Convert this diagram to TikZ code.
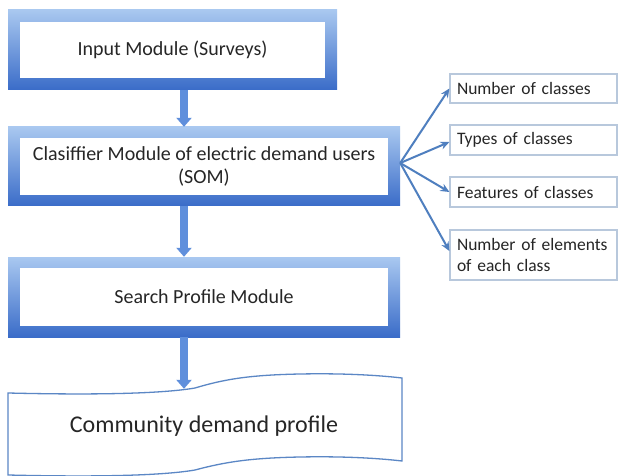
\documentclass[tikz,border=0pt]{standalone}
\usepackage{fontspec}
\setmainfont{Carlito}
\usetikzlibrary{arrows.meta,calc}
\definecolor{frametop}{HTML}{A9C8F0}
\definecolor{framebot}{HTML}{3A6CC8}
\definecolor{fatblue}{HTML}{5F8FDC}
\definecolor{thinblue}{HTML}{4F7FBF}
\definecolor{sidebox}{HTML}{B8C8DC}
\definecolor{docline}{HTML}{5B87C5}
\definecolor{txt}{HTML}{262626}
\newcommand\mytightspace{\spaceskip=0.15em plus 0.05em minus 0.02em\relax}
\begin{document}
\begin{tikzpicture}[x=1pt,y=-1pt,
  modframe/.style={inner sep=0pt, top color=frametop, bottom color=framebot, draw=none},
  modinner/.style={inner sep=0pt, fill=white, draw=none, text=txt, font=\fontsize{20}{23}\selectfont, align=center},
  fatarrow/.style={line width=8pt, draw=fatblue, -{Triangle[width=15pt,length=9pt]}},
  sideitem/.style={draw=sidebox, line width=1.2pt, fill=white, minimum width=167pt, text width=153pt, inner sep=0pt, align=left, text=txt, font=\fontsize{17.5}{21}\selectfont\mytightspace},
  thinarrow/.style={draw=thinblue, line width=2pt, -{Stealth[length=9pt,width=8pt]}},
  docshape/.style={draw=docline, line width=1.3pt, fill=white}]
\useasboundingbox (0,0) rectangle (619,476);
\fill[white] (0,0) rectangle (619,476);
% module 1
\node[modframe, minimum width=329pt, minimum height=80pt] (b1o) at (172.5,50) {};
\node[modinner, minimum width=305pt, minimum height=56pt] (b1) at (b1o) {Input Module (Surveys)};
% module 2
\node[modframe, minimum width=392pt, minimum height=79pt] (b2o) at (204,166.5) {};
\node[modinner, minimum width=368pt, minimum height=57pt] (b2) at (b2o) {Clasiffier Module of electric demand users\\(SOM)};
% module 3
\node[modframe, minimum width=392pt, minimum height=80pt] (b3o) at (204,297) {};
\node[modinner, minimum width=368pt, minimum height=58pt] (b3) at (b3o) {Search Profile Module};
% document shape
\draw[docshape] (8,393) .. controls (90,395) and (160,394) .. (195,388)
  .. controls (225,379) and (250,375) .. (300,374)
  .. controls (350,373) and (385,376) .. (402,378)
  -- (402,461)
  .. controls (385,459) and (350,456) .. (300,457)
  .. controls (250,458) and (225,462) .. (195,470)
  .. controls (160,476) and (90,477) .. (8,475) -- cycle;
\node[inner sep=0pt, minimum width=392pt, minimum height=74pt, text=txt, font=\fontsize{24}{28}\selectfont] (doc) at (204,426) {Community demand profile};
% fat arrows
\coordinate (ax) at (184,0);
\draw[fatarrow] (b1o.south -| ax) -- (b2o.north -| ax);
\draw[fatarrow] (b2o.south -| ax) -- (b3o.north -| ax);
\draw[fatarrow] (b3o.south -| ax) -- (doc.north -| ax);
% side items
\node[sideitem, minimum height=29pt] (s1) at (533.5,88.5) {Number of classes};
\node[sideitem, minimum height=30pt] (s2) at (533.5,140) {Types of classes};
\node[sideitem, minimum height=30pt] (s3) at (533.5,192) {Features of classes};
\node[sideitem, minimum height=50pt] (s4) at (533.5,255) {Number of elements\\of each class};
\coordinate (hub) at ([yshift=3.5pt]b2o.east);
\draw[thinarrow] (hub) -- (s1.west);
\draw[thinarrow] (hub) -- ([yshift=-2pt]s2.west);
\draw[thinarrow] (hub) -- (s3.west);
\draw[thinarrow] (hub) -- ([yshift=4pt]s4.west);
\end{tikzpicture}
\end{document}
